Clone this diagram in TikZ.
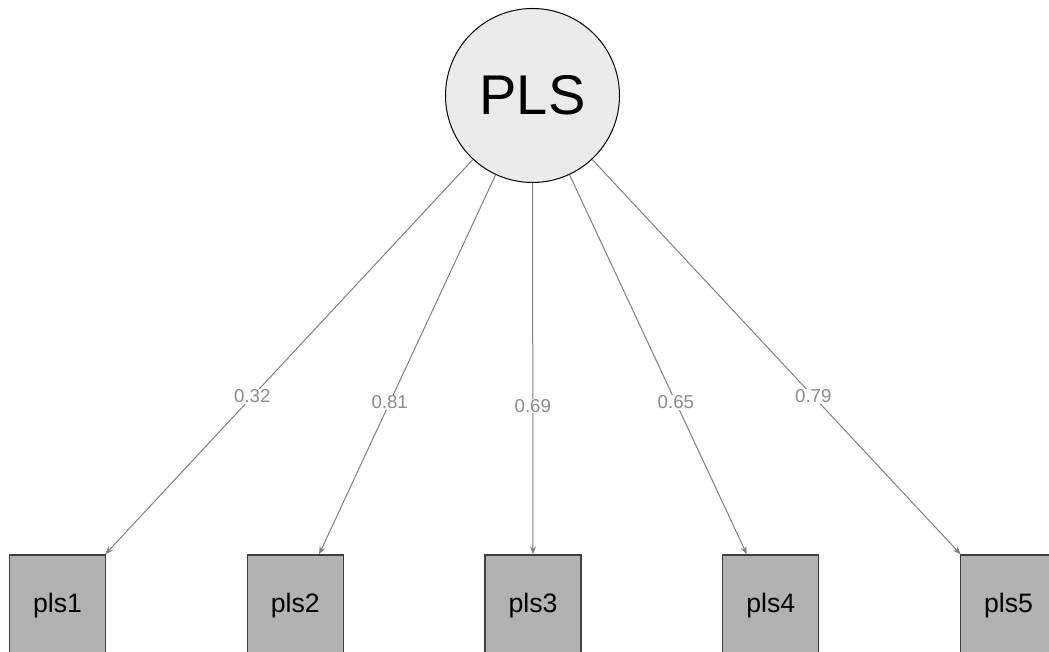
\documentclass[tikz,border=0pt]{standalone}
\usepackage{fontspec}
\setmainfont{Liberation Sans}
\usetikzlibrary{positioning, arrows.meta}

\begin{document}
\begin{tikzpicture}[x=0.75pt, y=0.75pt]
        \tikzstyle{latent} = [circle, draw=black, fill=black!8, line width=0.75pt,
          minimum size=130.5pt, inner sep=0pt, font=\fontsize{42}{42}\selectfont]
        \tikzstyle{manifest} = [rectangle, draw=black!75, fill=black!30, line width=1pt,
          minimum width=72pt, minimum height=76pt, inner sep=0pt, font=\fontsize{20}{20}\selectfont]
        \tikzstyle{loading} = [draw=black!50, line width=0.75pt, -{Stealth[length=6pt, width=4.5pt]}]
        \tikzstyle{weight} = [fill=white, inner sep=0.5pt, text=black!45, font=\fontsize{14}{14}\selectfont]

        \useasboundingbox (0,0) rectangle (1049,652);
        \clip (0,0) rectangle (1049,652);

        \node[latent] (PLS) at (532.5, 556.5) {PLS};

        \foreach \name/\val [count=\i] in {pls1/0.32, pls2/0.81, pls3/0.69, pls4/0.65, pls5/0.79} {
          \node[manifest] (\name) at ({57.5+(\i-1)*237.75}, 46.3) {\name};
          \draw[loading] (PLS) -- (\name) node[pos=0.6, weight] {\val};
        }
      \end{tikzpicture}
\end{document}
